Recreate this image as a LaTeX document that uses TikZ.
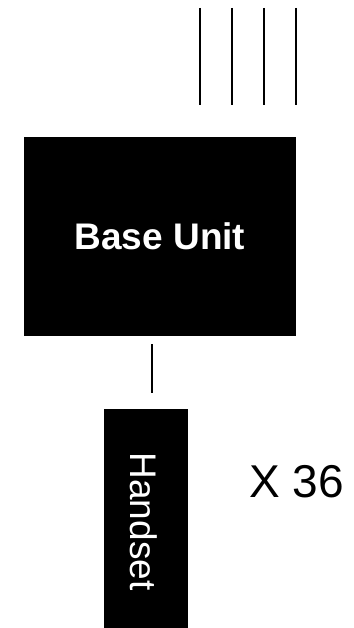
\documentclass[tikz,border=0pt]{standalone}
\usepackage{fontspec}
\setmainfont{Liberation Sans}
\usepackage{tikz}

\begin{document}
\begin{tikzpicture}[x=1pt, y=-1pt,
  unit/.style={draw=none, fill=black, text=white, inner sep=0pt},
  wire/.style={line width=1.3pt}]
\useasboundingbox (0,0) rectangle (353,628);
% base unit and handset
\node[unit, minimum width=272pt, minimum height=199.5pt, font=\fontsize{37}{40}\selectfont\bfseries] (base) at (160,236.5) {Base Unit};
\node[unit, minimum width=84pt, minimum height=219pt] (handset) at (146,518.5) {};
\node[text=white, rotate=-90, inner sep=0pt, font=\fontsize{37}{40}\selectfont] (handsetlabel) at (144,521.5) {Handset};
\node[anchor=base, inner sep=0pt, font=\fontsize{46}{50}\selectfont] (count) at (296.5,497) {X 36};
% lines into the base unit
\foreach \x [count=\i] in {200,232,264,296} {
  \coordinate (line\i) at (\x,8);
  \draw[wire, shorten >=32pt] (line\i) -- (line\i |- base.north);
}
% cable to the handset
\coordinate (cable) at (152,0);
\draw[wire, shorten <=8pt, shorten >=16pt] (base.south -| cable) -- (handset.north -| cable);
\end{tikzpicture}
\end{document}
